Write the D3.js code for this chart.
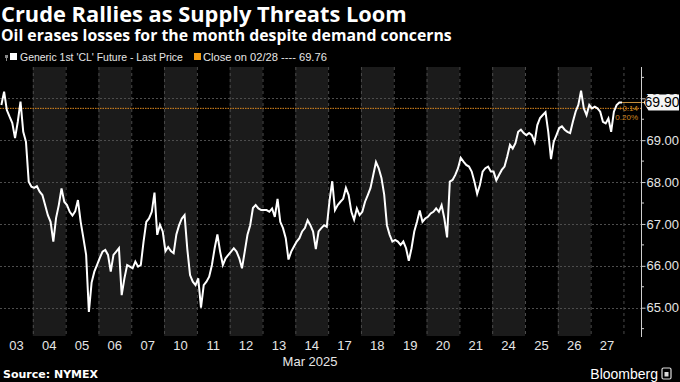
<!DOCTYPE html>
<html><head><meta charset="utf-8">
<script src="https://cdn.jsdelivr.net/npm/d3@7"></script>
<style>
html,body{margin:0;padding:0;background:#000;}
svg{display:block;}
</style></head><body>
<svg id="c" width="680" height="382"></svg>
<script>
// ---- data ----
const days = ["03","04","05","06","07","10","11","12","13","14","17","18","19","20","21","24","25","26","27"];
const monthLabel = "Mar 2025";
const yTicks = [65,66,67,68,69,70];
const prevClose = 69.76;
const lastPrice = 69.90;
const change = "+0.14";
const changePct = "0.20%";
// intraday prices, 12 samples per trading day
const p03 = [69.84,70.16,69.72,69.56,69.41,69.05,69.44,69.92,69.20,68.96,68.01,67.89];
const p04 = [67.86,67.90,67.77,67.69,67.45,67.21,67.05,66.58,67.14,67.45,67.85,67.53];
const p05 = [67.45,67.29,67.20,67.30,67.57,67.05,66.66,66.26,64.90,65.60,65.86,66.02];
const p06 = [66.19,66.34,66.38,66.26,65.86,66.26,66.34,66.42,65.30,65.70,66.02,65.98];
const p07 = [65.94,66.10,65.98,66.02,66.58,67.05,67.13,67.29,67.75,66.74,66.98,66.82];
const p10 = [66.35,66.45,66.35,66.30,66.75,66.97,67.13,67.21,66.40,65.78,65.62,65.54];
const p11 = [65.70,65.00,65.54,65.62,65.74,66.02,66.42,66.75,66.34,66.02,66.18,66.26];
const p12 = [66.34,66.42,66.34,66.18,65.94,66.34,66.74,66.97,67.38,67.45,67.37,67.33];
const p13 = [67.33,67.33,67.29,67.37,67.17,67.60,67.05,66.90,66.66,66.15,66.34,66.46];
const p14 = [66.58,66.66,66.82,66.90,67.09,66.97,66.82,66.40,66.82,66.90,66.97,66.93];
const p17 = [67.55,68.02,67.33,67.45,67.53,67.60,67.86,67.69,67.29,67.10,67.37,67.21];
const p18 = [67.29,67.53,67.69,67.86,68.17,68.48,68.33,68.10,67.70,66.97,66.74,66.58];
const p19 = [66.62,66.58,66.50,66.58,66.42,66.12,66.42,66.82,67.05,67.32,67.05,67.13];
const p20 = [67.17,67.25,67.29,67.37,67.29,67.45,67.13,66.68,68.01,68.05,68.17,68.33];
const p21 = [68.58,68.49,68.41,68.37,68.25,68.01,67.72,67.93,68.25,68.33,68.37,68.25];
const p24 = [68.25,68.04,68.17,68.29,68.37,68.61,68.89,68.80,68.93,69.20,69.25,69.17];
const p25 = [69.12,69.17,69.12,68.95,69.36,69.53,69.60,69.67,69.20,68.55,68.96,69.12];
const p26 = [69.29,69.33,69.25,69.20,69.17,69.44,69.68,69.84,70.18,69.76,69.60,69.84];
const p27 = [69.76,69.80,69.76,69.68,69.44,69.40,69.52,69.20,69.68,69.84,69.90,69.90];
const dayPrices = [p03,p04,p05,p06,p07,p10,p11,p12,p13,p14,p17,p18,p19,p20,p21,p24,p25,p26,p27];

// ---- layout ----
const svg = d3.select("#c");
const plot = {left:0, right:641.5, top:67, bottom:336};
const x = d3.scaleLinear().domain([0, 19.55]).range([plot.left, plot.right]);
const y = d3.scaleLinear().domain([65, 70]).range([307.7, 98.3]);
const yTop = y.invert(plot.top), yBot = y.invert(plot.bottom);

const points = [];
dayPrices.forEach((arr, i) => arr.forEach((v, j) => points.push({t: i + (j + 0.5) / arr.length, v})));

const sans = "'Liberation Sans',Arial,sans-serif";
function fitText(sel, w){ const n = sel.node(); const cur = n.getComputedTextLength(); const fs = parseFloat(sel.style("font-size")); sel.style("font-size", (fs * w / cur) + "px"); }

// background
svg.append("rect").attr("width",680).attr("height",382).attr("fill","#000");

// shaded alternating day bands
svg.append("g").selectAll("rect").data(days.map((d,i)=>i).filter(i=>i%2===1)).join("rect")
  .attr("x", i => x(i)).attr("width", i => x(i+1)-x(i))
  .attr("y", y(yTop)).attr("height", y(yBot)-y(yTop))
  .attr("fill", "#1b1b1b");

// vertical dashed day separators
svg.append("g").selectAll("line").data(d3.range(1, days.length+1)).join("line")
  .attr("x1", i => x(i)+0.5).attr("x2", i => x(i)+0.5)
  .attr("y1", y(yTop)).attr("y2", y(yBot))
  .attr("stroke", "#4a4a4a").attr("stroke-width", 1).attr("stroke-dasharray", "3,3");

// horizontal dotted gridlines
svg.append("g").selectAll("line").data(yTicks).join("line")
  .attr("x1", plot.left).attr("x2", plot.right)
  .attr("y1", d => Math.round(y(d))+0.5).attr("y2", d => Math.round(y(d))+0.5)
  .attr("stroke", "#4d4d4d").attr("stroke-width", 1).attr("stroke-dasharray", "2,2");

// previous close line (orange dotted)
svg.append("line")
  .attr("x1", plot.left).attr("x2", plot.right)
  .attr("y1", y(prevClose)).attr("y2", y(prevClose))
  .attr("stroke", "#e08a1e").attr("stroke-width", 1).attr("stroke-dasharray", "1.5,1");

// price line
const line = d3.line().x(d => x(d.t)).y(d => y(d.v)).curve(d3.curveLinear);
svg.append("path").datum(points).attr("d", line)
  .attr("fill", "none").attr("stroke", "#ffffff").attr("stroke-width", 2)
  .attr("stroke-linejoin", "miter");

// last price connector
const lastPt = points[points.length-1];
svg.append("line")
  .attr("x1", x(lastPt.t)).attr("x2", plot.right+3)
  .attr("y1", y(lastPrice)).attr("y2", y(lastPrice))
  .attr("stroke", "#c9913f").attr("stroke-width", 1);

// change annotations
svg.append("text").attr("x", 638).attr("y", y(prevClose)+3)
  .attr("text-anchor","end").attr("fill","#d0841f")
  .style("font", "8px " + sans).text(change);
svg.append("text").attr("x", 638).attr("y", y(prevClose)+12)
  .attr("text-anchor","end").attr("fill","#d0841f")
  .style("font", "8px " + sans).text(changePct);

// right axis
const yAxis = d3.axisRight(y).tickValues(yTicks).tickSize(4).tickPadding(1)
  .tickFormat(d3.format(".2f"));
const ga = svg.append("g").attr("transform", `translate(${plot.right},0)`).call(yAxis);
ga.select(".domain").remove();
ga.selectAll(".tick line").attr("stroke","#cfcfcf");
ga.selectAll("text").attr("fill","#e6e6e6").style("font","13px " + sans);
svg.append("line").attr("x1", plot.right).attr("x2", plot.right)
  .attr("y1", plot.top).attr("y2", plot.bottom+1).attr("stroke","#cfcfcf").attr("stroke-width",1);
// minor ticks
svg.append("g").selectAll("line").data(d3.range(64.5, 71, 1).filter(v => v > yBot && v < yTop)).join("line")
  .attr("x1", plot.right).attr("x2", plot.right+2.5)
  .attr("y1", d => y(d)).attr("y2", d => y(d)).attr("stroke","#cfcfcf");

// last price tag
const tagY = y(lastPrice);
const tag = svg.append("g");
tag.append("path")
  .attr("d", `M${plot.right+2},${tagY} L${plot.right+7},${tagY-8} L679,${tagY-8} L679,${tagY+8} L${plot.right+7},${tagY+8} Z`)
  .attr("fill","#f4f4f4");
tag.append("text").attr("x", 662).attr("y", tagY+5).attr("text-anchor","middle")
  .attr("fill","#000").style("font","14px " + sans).text(d3.format(".2f")(lastPrice));

// x labels
svg.append("g").selectAll("text").data(days).join("text")
  .attr("x", (d,i) => x(i+0.5)).attr("y", 350).attr("text-anchor","middle")
  .attr("fill","#e6e6e6").style("font","13px " + sans).text(d => d);
svg.append("text").attr("x", x(9.45)).attr("y", 366).attr("text-anchor","middle")
  .attr("fill","#e6e6e6").style("font","13px " + sans).text(monthLabel);

// title & subtitle
const t1 = svg.append("text").attr("x", 1).attr("y", 22).attr("fill","#fff")
  .style("font-family","'Open Sans',sans-serif").style("font-weight","700").style("font-size","20px")
  .text("Crude Rallies as Supply Threats Loom");
fitText(t1, 406);
const t2 = svg.append("text").attr("x", 1).attr("y", 41).attr("fill","#fff")
  .style("font-family","'Open Sans',sans-serif").style("font-weight","700").style("font-size","15px")
  .text("Oil erases losses for the month despite demand concerns");
fitText(t2, 451);

// legend
svg.append("path").attr("d","M5,55 h3 v3 h-1 v3 h-1 v-3 h-1 z").attr("fill","#888");
svg.append("rect").attr("x",10).attr("y",53).attr("width",7).attr("height",7).attr("fill","#fff");
const lg1 = svg.append("text").attr("x",20).attr("y",61).attr("fill","#e6e6e6")
  .style("font","11px " + sans).text("Generic 1st 'CL' Future - Last Price");
fitText(lg1, 163);
svg.append("rect").attr("x",194).attr("y",53).attr("width",7).attr("height",7).attr("fill","#f39c12");
const lg2 = svg.append("text").attr("x",203).attr("y",61).attr("fill","#e6e6e6")
  .style("font","11px " + sans).text("Close on 02/28 ---- 69.76");
fitText(lg2, 124);

// footer
svg.append("text").attr("x",3).attr("y",378).attr("fill","#fff")
  .style("font","bold 11px 'DejaVu Sans',sans-serif").text("Source: NYMEX");
svg.append("text").attr("x",658).attr("y",379).attr("text-anchor","end").attr("fill","#fff")
  .style("font","14px " + sans).text("Bloomberg");
svg.append("rect").attr("x",662).attr("y",368).attr("width",9).attr("height",11).attr("rx",1.5)
  .attr("fill","none").attr("stroke","#ddd").attr("stroke-width",1.2);
svg.append("rect").attr("x",664.5).attr("y",372).attr("width",4).attr("height",4.5).attr("fill","#ddd");
</script>
</body></html>
